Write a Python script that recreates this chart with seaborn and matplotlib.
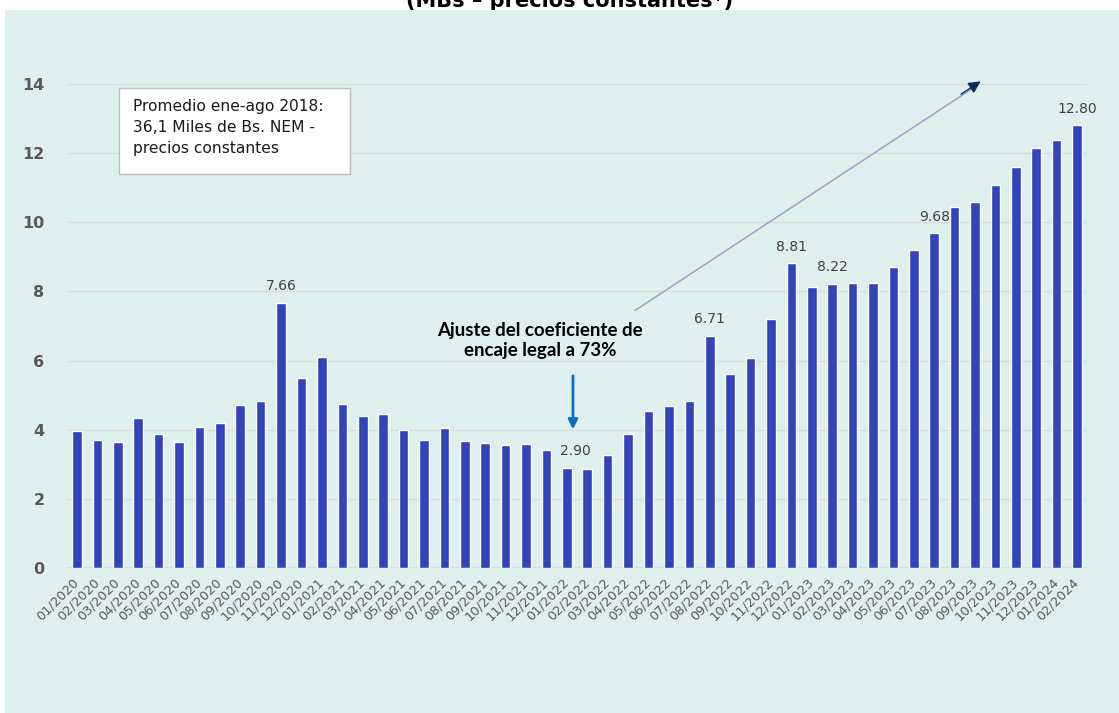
import matplotlib
matplotlib.use("Agg")
import matplotlib.pyplot as plt
from matplotlib.patches import Rectangle
import pandas as pd
import seaborn as sns

# Monthly series (thousands of Bs., constant prices)
periodos = [
    "01/2020", "02/2020", "03/2020", "04/2020", "05/2020", "06/2020",
    "07/2020", "08/2020", "09/2020", "10/2020", "11/2020", "12/2020",
    "01/2021", "02/2021", "03/2021", "04/2021", "05/2021", "06/2021",
    "07/2021", "08/2021", "09/2021", "10/2021", "11/2021", "12/2021",
    "01/2022", "02/2022", "03/2022", "04/2022", "05/2022", "06/2022",
    "07/2022", "08/2022", "09/2022", "10/2022", "11/2022", "12/2022",
    "01/2023", "02/2023", "03/2023", "04/2023", "05/2023", "06/2023",
    "07/2023", "08/2023", "09/2023", "10/2023", "11/2023", "12/2023",
    "01/2024", "02/2024",
]
valores = [
    3.97, 3.70, 3.64, 4.35, 3.87, 3.64, 4.08, 4.20, 4.71, 4.84, 7.66, 5.50,
    6.10, 4.75, 4.41, 4.46, 3.99, 3.69, 4.05, 3.67, 3.61, 3.56, 3.60, 3.42,
    2.90, 2.87, 3.26, 3.88, 4.54, 4.70, 4.82, 6.71, 5.61, 6.06, 7.19, 8.81,
    8.14, 8.22, 8.25, 8.25, 8.72, 9.20, 9.68, 10.45, 10.58, 11.09, 11.59, 12.14,
    12.37, 12.80,
]
periodos_rotulados = ["11/2020", "01/2022", "08/2022", "12/2022",
                      "02/2023", "07/2023", "02/2024"]
y_ticks = [0, 2, 4, 6, 8, 10, 12, 14]

titulo = "(MBs \u2013 precios constantes*)"
nota = "Promedio ene-ago 2018:\n36,1 Miles de Bs. NEM -\nprecios constantes"
evento = "Ajuste del coeficiente de\nencaje legal a 73%"

df = pd.DataFrame({"periodo": periodos, "valor": valores})

BAR = "#3343b9"
PANEL = "#ddf0ee"
GRID = "#e2d8d8"
TXT = "#595959"

sns.set_style("white")
plt.rcParams["font.family"] = ["DejaVu Sans"]

W, H = 1119, 713
fig = plt.figure(figsize=(W / 100, H / 100), dpi=100)
fig.patch.set_facecolor("white")

# title sits behind the chart panel, only its lower edge shows in the top strip
fig.text(570 / W, (H - 7) / H, titulo, ha="center", va="baseline",
         fontsize=15, fontweight="bold", color="black", zorder=-20)
panel = Rectangle((5 / W, 0), 1 - 5 / W, (H - 10) / H,
                  transform=fig.transFigure, facecolor=PANEL,
                  edgecolor="none", zorder=-10)
fig.add_artist(panel)

ax = fig.add_axes([66.8 / W, (H - 568) / H, 1020.5 / W, 484 / H])
ax.set_facecolor("none")
ax.set_zorder(1)

sns.barplot(data=df, x="periodo", y="valor", color=BAR, width=0.47,
            saturation=1, ax=ax, zorder=3)

ax.set_xlim(-0.5, len(periodos) - 0.5)
ax.set_ylim(0, 14)
ax.set_yticks(y_ticks)
ax.yaxis.grid(True, color=GRID, linewidth=1, zorder=0)
ax.set_axisbelow(True)
for s in ax.spines.values():
    s.set_visible(False)
ax.axhline(0, color="#d9d9d9", linewidth=1.2, zorder=2)

ax.set_xlabel("")
ax.set_ylabel("")
ax.tick_params(axis="y", length=0, pad=16, labelsize=11.5, labelcolor=TXT)
ax.tick_params(axis="x", which="major", length=0, pad=9, labelsize=9.3,
               labelcolor=TXT)
for lbl in ax.get_xticklabels():
    lbl.set_rotation(45)
    lbl.set_ha("right")
    lbl.set_va("center")
    lbl.set_rotation_mode("anchor")
for lbl in ax.get_yticklabels():
    lbl.set_fontweight("bold")

# small separators between categories on the baseline
ax.set_xticks([i + 0.5 for i in range(-1, len(periodos))], minor=True)
ax.tick_params(axis="x", which="minor", length=5, width=1, color="#d9d9d9",
               direction="out")

# value labels on selected bars
for per in periodos_rotulados:
    i = periodos.index(per)
    v = valores[i]
    dx = 6 if per == "01/2022" else 0
    ax.annotate(f"{v:.2f}", (i, v), xytext=(dx, 7), textcoords="offset points",
                ha="center", va="bottom", fontsize=10, color="#404040")

# note box
ax.add_patch(Rectangle((2.06, 11.40), 11.32, 2.48, facecolor="white",
                       edgecolor="#bfbfbf", linewidth=1, zorder=4))
ax.text(2.74, 13.58, nota, ha="left", va="top", fontsize=11.2,
        color="#1a1a1a", linespacing=1.5, zorder=5)

# reserve-requirement event
ax.text(22.7, 6.57, evento, ha="center", va="center", fontsize=13.5,
        fontweight="bold", family="Lato", color="black", linespacing=1.2,
        zorder=5)
ax.annotate("", xy=(24.3, 3.93), xytext=(24.3, 5.64),
            arrowprops=dict(arrowstyle="-|>", color="#0a70c4", lw=2,
                            mutation_scale=14), zorder=5)

# trend arrow
ax.annotate("", xy=(44.2, 14.0), xytext=(27.24, 7.41),
            arrowprops=dict(arrowstyle="-", color="#95a6c4", lw=1.1),
            annotation_clip=False, zorder=5)
ax.annotate("", xy=(44.39, 14.12), xytext=(43.2, 13.66),
            arrowprops=dict(arrowstyle="-|>", color="#0b2a5b", lw=1,
                            mutation_scale=18),
            annotation_clip=False, zorder=6)

fig.savefig("out.png", dpi=100, facecolor=fig.get_facecolor())
